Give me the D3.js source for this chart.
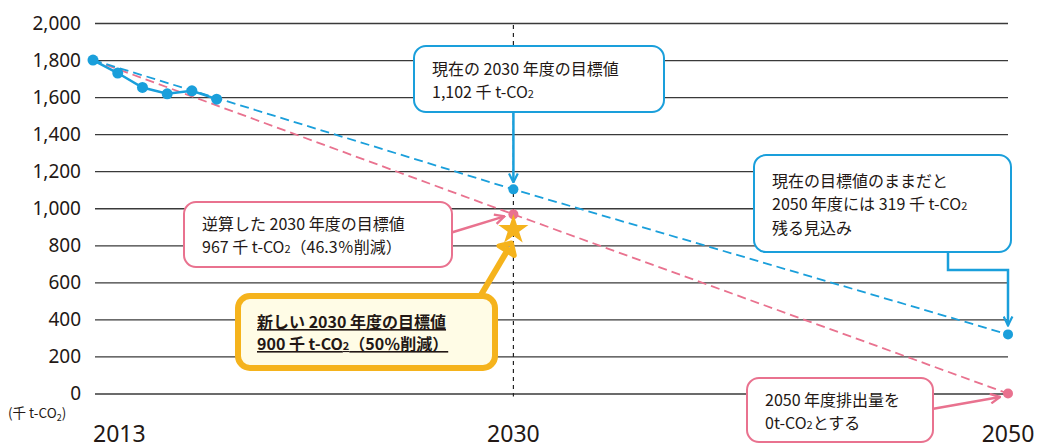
<!DOCTYPE html>
<html><head><meta charset="utf-8">
<script src="https://cdn.jsdelivr.net/npm/d3@7"></script>
<style>
body{margin:0;background:#fff;}
svg{display:block;font-family:"Noto Sans CJK JP","Noto Sans",sans-serif;}
</style></head>
<body><svg id="c" width="1039" height="448"></svg>
<script>
// ---- data ----
const actualYears = [2013, 2014, 2015, 2016, 2017, 2018];
const actualValues = [1800, 1730, 1652, 1618, 1634, 1589];
const currentTargetYears = [2013, 2030, 2050];
const currentTargetValues = [1800, 1102, 319];
const backcastYears = [2013, 2030, 2050];
const backcastValues = [1800, 967, 0];
const newTargetYear = 2030;
const newTargetValue = 900;
const yTicks = [0, 200, 400, 600, 800, 1000, 1200, 1400, 1600, 1800, 2000];
const xLabels = [2013, 2030, 2050];

const BLUE = "#1a9fdb", PINK = "#e9728f", GOLD = "#f5b31c", TXT = "#231815";
const svg = d3.select("#c");
const x = d3.scaleLinear().domain([2013, 2050]).range([93, 1008]);
const y = d3.scaleLinear().domain([0, 2000]).range([393.5, 23]);

// defs / markers
const defs = svg.append("defs");
function marker(id, color, w) {
  defs.append("marker").attr("id", id).attr("viewBox", "0 0 10 10")
    .attr("refX", 9).attr("refY", 5).attr("markerWidth", w).attr("markerHeight", w)
    .attr("orient", "auto").attr("markerUnits", "userSpaceOnUse")
    .append("path").attr("d", "M1,1 L9,5 L1,9").attr("fill", "none")
    .attr("stroke", color).attr("stroke-width", 2);
}
marker("mb", BLUE, 11); marker("mp", PINK, 12);

// y axis with gridlines
const yAxis = d3.axisLeft(y).tickValues(yTicks).tickSize(-(1008 - 95)).tickPadding(14)
  .tickFormat(d3.format(","));
const gy = svg.append("g").attr("transform", "translate(95,0)").call(yAxis);
gy.select(".domain").remove();
gy.selectAll(".tick line").attr("stroke", "#3a3a3a").attr("stroke-width", 1.3);
gy.selectAll(".tick text").attr("fill", TXT).attr("font-size", 19)
  .attr("font-family", "'Noto Sans',sans-serif");

// unit label
const unit = svg.append("text").attr("x", 8).attr("y", 418).attr("font-size", 13.5).attr("fill", TXT);
unit.append("tspan").text("(千 t-CO");
unit.append("tspan").attr("font-size", 9).attr("dy", 3).text("2");
unit.append("tspan").attr("dy", -3).text(")");

// x labels
svg.selectAll(".xl").data(xLabels).join("text").attr("class", "xl")
  .attr("x", d => x(d)).attr("y", 442)
  .attr("text-anchor", (d, i) => i === 0 ? "start" : "middle")
  .attr("font-size", 23).attr("fill", TXT).attr("font-family", "'Noto Sans',sans-serif")
  .text(d => d);

// vertical dashed line at 2030
svg.append("line").attr("x1", x(2030)).attr("x2", x(2030)).attr("y1", y(2000) + 2).attr("y2", y(0) + 3)
  .attr("stroke", "#222").attr("stroke-width", 1.2).attr("stroke-dasharray", "4,4");

const line = d3.line().x(d => x(d[0])).y(d => y(d[1]));

// dashed projections
svg.append("path").datum(backcastYears.map((d, i) => [d, backcastValues[i]]))
  .attr("d", line).attr("fill", "none").attr("stroke", PINK).attr("stroke-width", 1.8)
  .attr("stroke-dasharray", "9,5");
svg.append("path").datum(currentTargetYears.map((d, i) => [d, currentTargetValues[i]]))
  .attr("d", line).attr("fill", "none").attr("stroke", BLUE).attr("stroke-width", 1.8)
  .attr("stroke-dasharray", "9,5");

// actual line
const act = actualYears.map((d, i) => [d, actualValues[i]]);
svg.append("path").datum(act).attr("d", line).attr("fill", "none")
  .attr("stroke", BLUE).attr("stroke-width", 2.5);
svg.selectAll(".ad").data(act).join("circle").attr("cx", d => x(d[0])).attr("cy", d => y(d[1]))
  .attr("r", 5.5).attr("fill", BLUE);

// target dots
svg.selectAll(".cd").data(currentTargetYears.slice(1).map((d, i) => [d, currentTargetValues[i + 1]]))
  .join("circle").attr("cx", d => x(d[0])).attr("cy", d => y(d[1])).attr("r", 5).attr("fill", BLUE);
svg.selectAll(".pd").data(backcastYears.slice(1).map((d, i) => [d, backcastValues[i + 1]]))
  .join("circle").attr("cx", d => x(d[0])).attr("cy", d => y(d[1])).attr("r", 5).attr("fill", PINK);

// star
svg.append("path").attr("d", d3.symbol(d3.symbolStar, 280)())
  .attr("transform", `translate(${x(newTargetYear)},${y(newTargetValue) + 3})`)
  .attr("fill", GOLD);

// callout helper
function box(x0, y0, w, h, stroke, sw, fill) {
  svg.append("rect").attr("x", x0).attr("y", y0).attr("width", w).attr("height", h)
    .attr("rx", 12).attr("fill", fill).attr("stroke", stroke).attr("stroke-width", sw);
}
function txt(x0, y0, parts, opts = {}) {
  const t = svg.append("text").attr("x", x0).attr("y", y0).attr("font-size", 16)
    .attr("fill", TXT).attr("font-weight", opts.bold ? 700 : 400);
  if (opts.underline) t.attr("text-decoration", "underline");
  parts.forEach(p => {
    if (typeof p === "string") t.append("tspan").text(p);
    else t.append("tspan").attr("font-size", 11).text(p.small);
  });
  return t;
}

// blue callout 2030
svg.append("line").attr("x1", x(2030)).attr("x2", x(2030)).attr("y1", 112).attr("y2", y(1102) - 7)
  .attr("stroke", BLUE).attr("stroke-width", 2.5).attr("marker-end", "url(#mb)");
box(414, 46, 250, 66, BLUE, 2, "#fff");
txt(432, 75, ["現在の 2030 年度の目標値"]);
txt(432, 98, ["1,102 千 t-CO", {small: "2"}]);

// pink callout 2030
svg.append("line").attr("x1", 450).attr("x2", x(2030) - 9).attr("y1", 233).attr("y2", y(967) + 2)
  .attr("stroke", PINK).attr("stroke-width", 2.5).attr("marker-end", "url(#mp)");
box(184, 202, 268, 65, PINK, 2, "#fff");
txt(202, 230, ["逆算した 2030 年度の目標値"]);
txt(202, 253, ["967 千 t-CO", {small: "2"}, "（46.3％削減）"]);

// orange callout
svg.append("line").attr("x1", 478).attr("x2", x(2030) - 4).attr("y1", 300).attr("y2", 247)
  .attr("stroke", GOLD).attr("stroke-width", 6);
svg.append("path").attr("d", "M0,0 L-9,-9 L-9,9 Z")
  .attr("transform", `translate(${x(2030) - 2},243) rotate(-58)`)
  .attr("fill", "none").attr("stroke", GOLD).attr("stroke-width", 5).attr("stroke-linejoin", "round");
box(238, 296, 257, 72, GOLD, 6, "#fffce6");
txt(257, 328, ["新しい 2030 年度の目標値"], {bold: true, underline: true});
txt(257, 350, ["900 千 t-CO", {small: "2"}, "（50％削減）"], {bold: true, underline: true});

// blue callout 2050
svg.append("path").attr("d", `M948,252 V270 H${x(2050)} V${y(319) - 9}`)
  .attr("fill", "none").attr("stroke", BLUE).attr("stroke-width", 2.5).attr("marker-end", "url(#mb)");
box(754, 155, 257, 97, BLUE, 2, "#fff");
txt(772, 187, ["現在の目標値のままだと"]);
txt(772, 210, ["2050 年度には 319 千 t-CO", {small: "2"}]);
txt(772, 234, ["残る見込み"]);

// pink callout 2050
svg.append("line").attr("x1", 932).attr("x2", 1000).attr("y1", 409).attr("y2", 397)
  .attr("stroke", PINK).attr("stroke-width", 2.5).attr("marker-end", "url(#mp)");
box(747, 378, 186, 64, PINK, 2, "#fff");
txt(765, 406, ["2050 年度排出量を"]);
txt(765, 429, ["0t-CO", {small: "2"}, "とする"]);
</script></body></html>
